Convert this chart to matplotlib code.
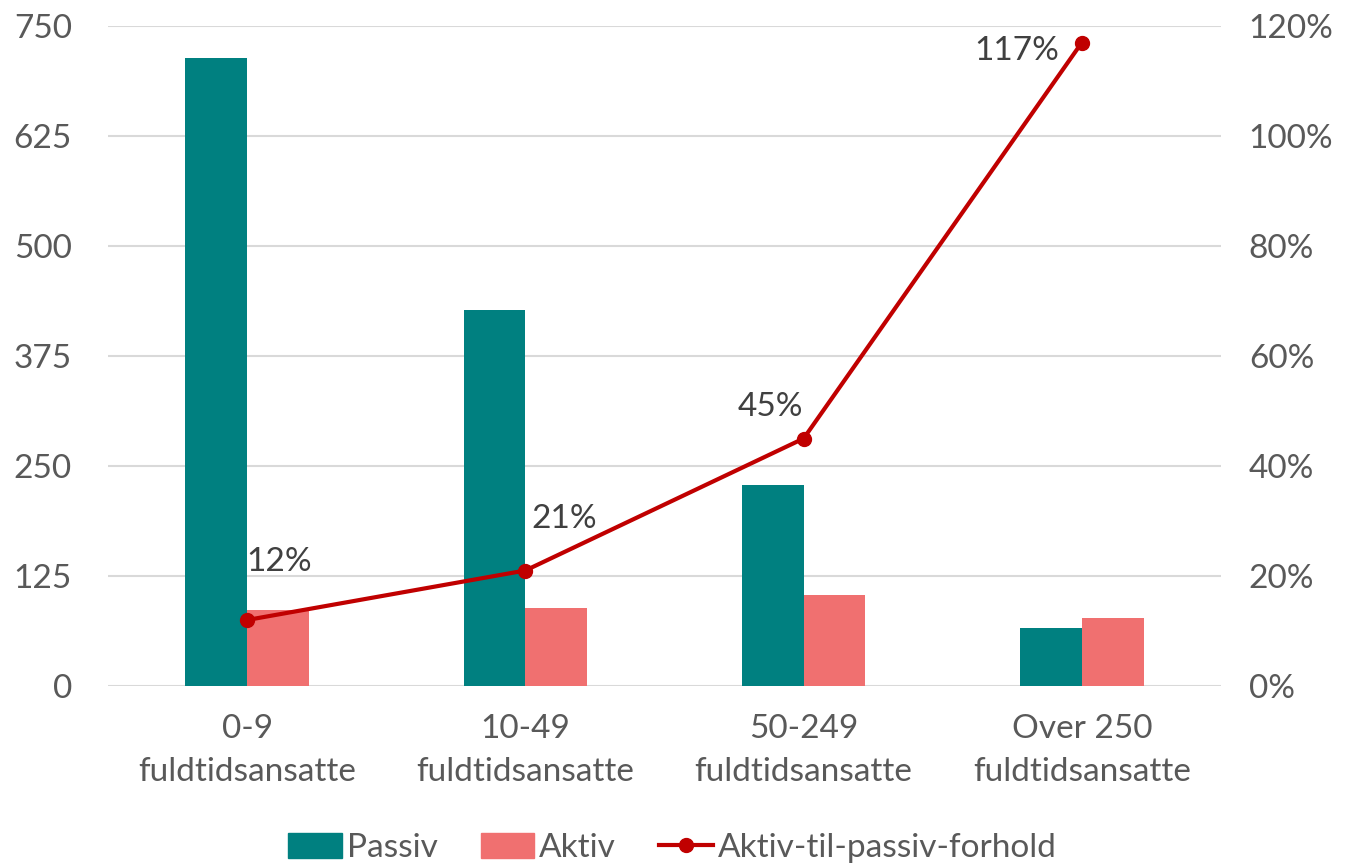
import matplotlib
matplotlib.use("Agg")
import matplotlib.pyplot as plt
import numpy as np
from matplotlib.lines import Line2D
from matplotlib.patches import Patch

categories = ["0-9\nfuldtidsansatte", "10-49\nfuldtidsansatte", "50-249\nfuldtidsansatte", "Over 250\nfuldtidsansatte"]
passiv = [714, 427, 228, 66]
aktiv = [86, 89, 103, 77]
ratio = [12, 21, 45, 117]
ratio_labels = ["12%", "21%", "45%", "117%"]
left_ticks = [0, 125, 250, 375, 500, 625, 750]
right_ticks = [0, 20, 40, 60, 80, 100, 120]

plt.rcParams['font.family'] = ['Lato', 'DejaVu Sans']
TXT = '#595959'
FS = 24

fig = plt.figure(figsize=(13.45, 8.66), dpi=100)
ax = fig.add_axes([108/1345, 1-686/866, (1221-108)/1345, (686-26)/866])
x = np.arange(len(categories))
w = 0.222
ax.bar(x - w/2, passiv, w, color='#008080', zorder=3, label='Passiv')
ax.bar(x + w/2, aktiv, w, color='#F07070', zorder=3, label='Aktiv')
ax.set_xlim(-0.5, 3.5)
ax.set_ylim(0, 750)
ax.set_yticks(left_ticks)
ax.set_yticklabels([str(t) for t in left_ticks])
ax.grid(axis='y', color='#D9D9D9', linewidth=1.5, zorder=0)
ax.set_axisbelow(True)
for s in ax.spines.values():
    s.set_visible(False)
ax.tick_params(axis='both', length=0, labelsize=FS, colors=TXT)
ax.tick_params(axis='y', pad=26)
ax.tick_params(axis='x', pad=20)
ax.set_xticks(x)
ax.set_xticklabels(categories, linespacing=1.55)

ax2 = ax.twinx()
ax2.set_ylim(0, 120)
ax2.plot(x, ratio, color='#C00000', linewidth=3, marker='o', markersize=10, zorder=5)
ax2.set_yticks(right_ticks)
ax2.set_yticklabels([f"{t}%" for t in right_ticks])
ax2.tick_params(axis='y', length=0, labelsize=FS, colors=TXT, pad=20)
for s in ax2.spines.values():
    s.set_visible(False)

offsets = [(23, 42), (28, 37), (-24, 23), (-47, -6)]
for xi, r, t, off in zip(x, ratio, ratio_labels, offsets):
    ax2.annotate(t, (xi, r), xytext=off, textcoords='offset points', ha='center', va='center',
                 fontsize=FS, color='#404040')

handles = [Patch(color='#008080', label='Passiv'), Patch(color='#F07070', label='Aktiv'),
           Line2D([0], [0], color='#C00000', linewidth=3, marker='o', markersize=10,
                  label='Aktiv-til-passiv-forhold')]
leg = fig.legend(handles=handles, loc='center', bbox_to_anchor=(0.5, 1-848/866), ncol=3,
                 frameon=False, fontsize=FS, handlelength=1.6, handleheight=0.8, columnspacing=1.3,
                 handletextpad=0.15, borderpad=0)
for t in leg.get_texts():
    t.set_color(TXT)

fig.savefig('out.png', dpi=100)
